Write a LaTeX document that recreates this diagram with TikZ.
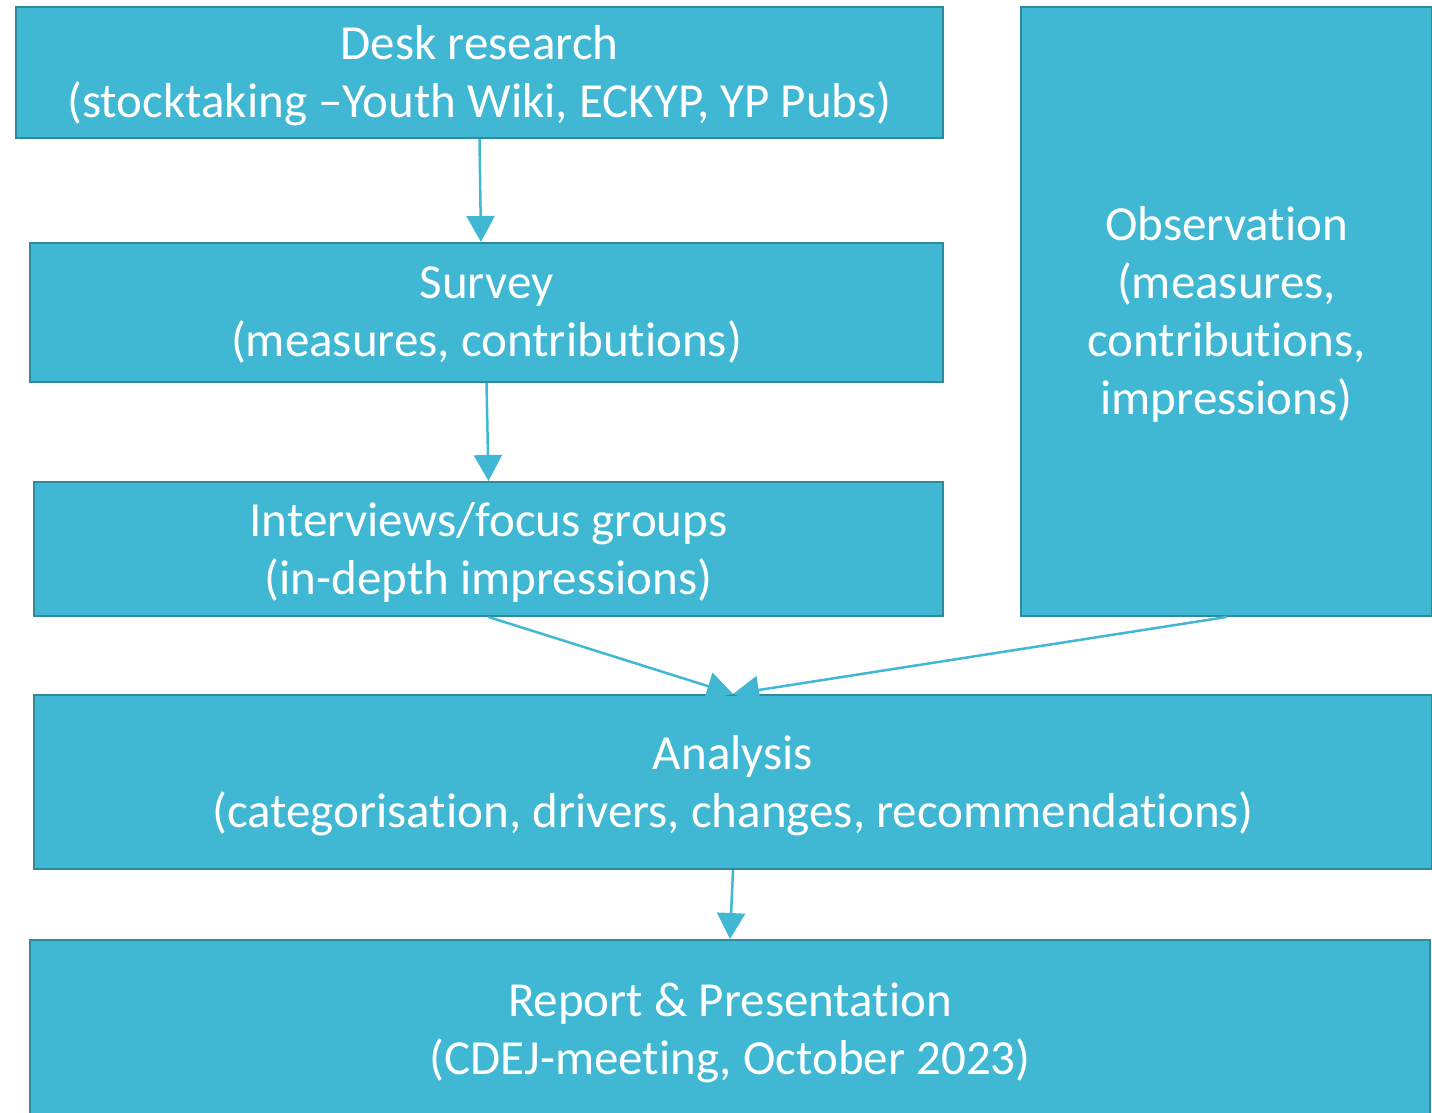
\documentclass[tikz,border=0pt]{standalone}
\usepackage{fontspec}
\setmainfont{Carlito}[Ligatures=NoCommon]
\usetikzlibrary{arrows.meta}
\definecolor{stepfill}{HTML}{41B8D3}
\definecolor{stepline}{HTML}{2F8A9E}
\begin{document}
\begin{tikzpicture}
[x=1pt,y=-1pt,
every node/.style={draw=stepline,line width=2pt,fill=stepfill,text=white,align=center,inner sep=0pt,
  text depth=2pt,font=\fontsize{49}{58}\selectfont},
flow/.style={draw=stepfill,line width=2.5pt,-{Triangle[length=26pt,width=28pt]}}]
	\clip (0,0) rectangle (1432,1112);
	\node[minimum width=927,minimum height=131] (desk) at (479.5,72.5)
		{Desk research\\(stocktaking --Youth Wiki, ECKYP, YP Pubs)};
	\node[minimum width=913,minimum height=139] (survey) at (486.5,312.5)
		{Survey\\(measures, contributions)};
	\node[minimum width=909,minimum height=134] (interviews) at (488.5,549)
		{Interviews/focus groups\\(in-depth impressions)};
	\node[minimum width=411,minimum height=609] (observation) at (1226.5,311.5)
		{Observation\\(measures,\\contributions,\\impressions)};
	\node[minimum width=1398,minimum height=174] (analysis) at (733,782)
		{Analysis\\(categorisation, drivers, changes, recommendations)};
	\node[minimum width=1400,minimum height=180] (report) at (730,1030)
		{Report \& Presentation\\(CDEJ-meeting, October 2023)};
	\draw[flow] (desk.south) -- ([xshift=1.5]desk.south |- survey.north);
	\draw[flow] (survey.south) -- (interviews.north);
	\draw[flow] (interviews.south) -- (analysis.north);
	\draw[flow] (observation.south) -- (analysis.north);
	\draw[flow] (analysis.south) -- (report.north);
\end{tikzpicture}
\end{document}
